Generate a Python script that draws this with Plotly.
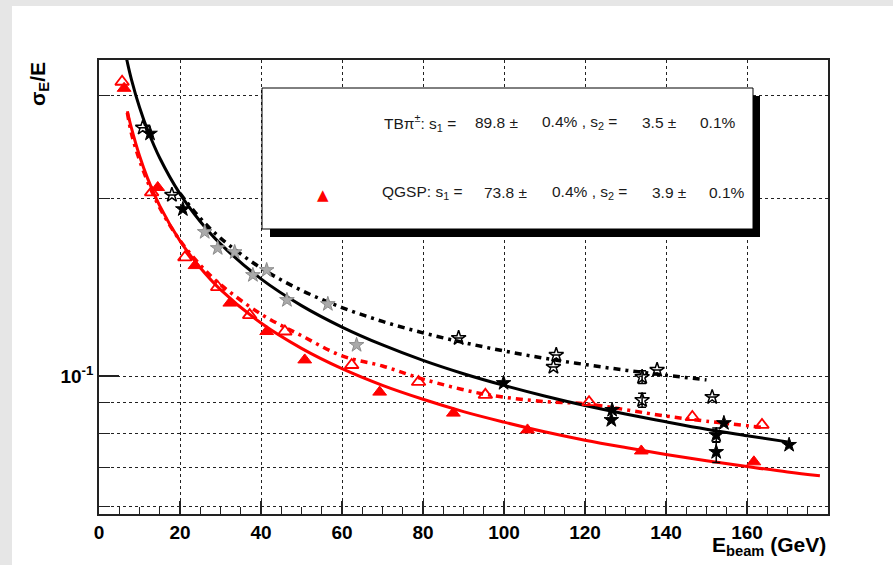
import plotly.graph_objects as go

# ---------------- data ----------------
# QGSP, filled red triangles
red_fill_x = [6.2, 14.5, 23.7, 32.3, 41.4, 50.8, 69.3, 87.5, 105.8, 133.9, 161.7]
red_fill_y = [0.308, 0.209, 0.154, 0.133, 0.119, 0.1065, 0.0939, 0.0865, 0.0810, 0.0746, 0.0715]
# open red triangles
red_open_x = [5.7, 13.0, 21.2, 29.3, 37.2, 45.9, 62.4, 78.9, 95.4, 121.0, 146.5, 163.7]
red_open_y = [0.316, 0.205, 0.159, 0.1416, 0.1269, 0.119, 0.1044, 0.0977, 0.0929, 0.0903, 0.0852, 0.0826]
# TB pi, filled black stars
black_fill_x = [12.6, 20.7, 99.9, 126.5, 126.7, 152.4, 152.4, 154.3, 170.4]
black_fill_y = [0.258, 0.192, 0.0973, 0.0842, 0.0876, 0.0794, 0.0743, 0.0832, 0.0764]
black_fill_err = [0, 0, 0, 0, 0, 0.0022, 0.0030, 0, 0]
# open black stars
black_open_x = [10.8, 18.0, 88.8, 112.2, 112.9, 134.1, 134.1, 137.8, 151.4]
black_open_y = [0.264, 0.203, 0.116, 0.1036, 0.1086, 0.0996, 0.0910, 0.1024, 0.0921]
black_open_err = [0, 0, 0, 0, 0, 0.0025, 0.0025, 0, 0]
# grey stars
gray_x = [26.1, 29.3, 33.5, 38.0, 41.4, 46.4, 56.5, 63.6]
gray_y = [0.1756, 0.1649, 0.1623, 0.1484, 0.1513, 0.1346, 0.1325, 0.1129]

# fit curves
tb_fit_x = [6, 7, 8, 10, 12, 15, 20, 25, 30, 40, 50, 60, 70, 80, 90, 100, 110, 120, 130, 140, 150, 160, 170]
tb_fit_y = [0.368, 0.341, 0.319, 0.286, 0.2616, 0.2345, 0.2038, 0.183, 0.1676, 0.1462, 0.1317, 0.1211, 0.1129,
            0.1063, 0.1009, 0.0964, 0.0925, 0.0891, 0.0862, 0.0836, 0.0812, 0.0792, 0.0773]
tb2_fit_x = [20, 25, 30, 40, 50, 60, 70, 80, 90, 100, 110, 120, 130, 140, 150]
tb2_fit_y = [0.2043, 0.1853, 0.1715, 0.1525, 0.1398, 0.1307, 0.1238, 0.1184, 0.114, 0.1103, 0.1072, 0.1046,
             0.1023, 0.1003, 0.0985]
qgsp_fit_x = [7, 8, 10, 12, 15, 20, 25, 30, 40, 50, 60, 70, 80, 90, 100, 110, 120, 130, 140, 150, 160, 170, 178]
qgsp_fit_y = [0.2816, 0.2638, 0.2366, 0.2166, 0.1945, 0.1696, 0.1527, 0.1402, 0.123, 0.1114, 0.1029, 0.0964,
              0.0913, 0.087, 0.0835, 0.0804, 0.0778, 0.0756, 0.0736, 0.0718, 0.0702, 0.0687, 0.0677]
qgsp2_fit_x = [7, 8, 10, 13, 16, 20, 25, 30, 40, 50, 60, 70, 80, 95, 110, 120, 140, 150, 164]
qgsp2_fit_y = [0.280, 0.2584, 0.2326, 0.206, 0.1876, 0.1699, 0.1543, 0.143, 0.1274, 0.1171, 0.1082, 0.104,
               0.0988, 0.0932, 0.0905, 0.0897, 0.0855, 0.0838, 0.0818]

x_ticks = [0, 20, 40, 60, 80, 100, 120, 140, 160]
y_major = [0.1]
y_major_text = ["10<sup>-1</sup>"]
y_minor = [0.06, 0.07, 0.08, 0.09, 0.2, 0.3]

legend_rows = [
    ["TBπ<sup>±</sup>: s<sub>1</sub> =", "89.8 ±", "0.4% , s<sub>2</sub> =", "3.5 ±", "0.1%"],
    ["QGSP: s<sub>1</sub> =", "73.8 ±", "0.4% , s<sub>2</sub> =", "3.9 ±", "0.1%"],
]

# ---------------- figure ----------------
RED = "#ff0000"
FONT = "Liberation Sans, Arial, Helvetica, sans-serif"

fig = go.Figure()

fig.add_trace(go.Scatter(x=tb2_fit_x, y=tb2_fit_y, mode="lines", line_shape="spline",
                         line=dict(color="black", width=3.5, dash="7px,5px,3px,5px")))
fig.add_trace(go.Scatter(x=qgsp2_fit_x, y=qgsp2_fit_y, mode="lines", line_shape="spline",
                         line=dict(color=RED, width=3.5, dash="7px,5px,3px,5px")))
fig.add_trace(go.Scatter(x=tb_fit_x, y=tb_fit_y, mode="lines", line_shape="spline",
                         line=dict(color="black", width=3)))
fig.add_trace(go.Scatter(x=qgsp_fit_x, y=qgsp_fit_y, mode="lines", line_shape="spline",
                         line=dict(color=RED, width=3)))

fig.add_trace(go.Scatter(x=gray_x, y=gray_y, mode="markers",
                         marker=dict(symbol="star", size=11, color="#aaaaaa",
                                     line=dict(color="#8c8c8c", width=1))))
fig.add_trace(go.Scatter(x=black_open_x, y=black_open_y, mode="markers",
                         error_y=dict(type="data", array=black_open_err, color="black", thickness=1.5, width=4),
                         marker=dict(symbol="star-open", size=11, color="black",
                                     line=dict(color="black", width=1.5))))
fig.add_trace(go.Scatter(x=black_fill_x, y=black_fill_y, mode="markers",
                         error_y=dict(type="data", array=black_fill_err, color="black", thickness=1.5, width=4),
                         marker=dict(symbol="star", size=11, color="black",
                                     line=dict(color="black", width=1))))
fig.add_trace(go.Scatter(x=red_open_x, y=red_open_y, mode="markers",
                         marker=dict(symbol="triangle-up-open", size=12, color=RED,
                                     line=dict(color=RED, width=1.8))))
fig.add_trace(go.Scatter(x=red_fill_x, y=red_fill_y, mode="markers",
                         marker=dict(symbol="triangle-up", size=12, color=RED,
                                     line=dict(color=RED, width=1))))

# plot geometry in pixels
L, R, T, B = 99, 828, 60, 514
W, H = 893, 565


def px(xp):
    return (xp - L) / (R - L)


def py(yp):
    return (B - yp) / (B - T)


shapes = [
    # white page over grey surround
    dict(type="rect", xref="paper", yref="paper", x0=px(12), x1=px(900), y0=py(575), y1=py(6),
         fillcolor="white", line=dict(width=0), layer="below"),
    # legend shadow
    dict(type="rect", xref="paper", yref="paper", x0=px(270), x1=px(760), y0=py(237), y1=py(96),
         fillcolor="black", line=dict(width=0), layer="above"),
    # legend box
    dict(type="rect", xref="paper", yref="paper", x0=px(262), x1=px(753), y0=py(229), y1=py(88),
         fillcolor="white", line=dict(color="black", width=1), layer="above"),
]

annotations = []
col_x = [[382, 473, 540, 640, 698], [380, 482, 550, 650, 707]]
row_y = [123, 192]
for r, row in enumerate(legend_rows):
    for c, txt in enumerate(row):
        annotations.append(dict(xref="paper", yref="paper", x=px(col_x[r][c]), y=py(row_y[r]),
                                xanchor="left", yanchor="middle", showarrow=False, text=txt,
                                font=dict(family=FONT, size=15.5, color="#1a1a1a")))
annotations.append(dict(xref="paper", yref="paper", x=px(323), y=py(195), xanchor="center",
                        yanchor="middle", showarrow=False, text="▲",
                        font=dict(family="DejaVu Sans", size=15, color=RED)))
# axis titles
annotations.append(dict(xref="paper", yref="paper", x=px(39), y=py(84), xanchor="center",
                        yanchor="middle", showarrow=False, textangle=-90,
                        text="σ<sub>E</sub>/E",
                        font=dict(family=FONT, size=21, color="black", weight="bold")))
annotations.append(dict(xref="paper", yref="paper", x=px(828), y=py(546), xanchor="right",
                        yanchor="middle", showarrow=False,
                        text="E<sub>beam</sub> (GeV)",
                        font=dict(family=FONT, size=21, color="black", weight="bold")))

fig.update_layout(
    width=W, height=H,
    margin=dict(l=L, r=W - R, t=T, b=H - B, pad=0, autoexpand=False),
    paper_bgcolor="#e6e6e6",
    plot_bgcolor="white",
    showlegend=False,
    shapes=shapes,
    annotations=annotations,
    font=dict(family=FONT, color="black"),
)

fig.update_xaxes(
    range=[0, 180], tickvals=x_ticks, ticktext=[str(v) for v in x_ticks],
    ticks="inside", ticklen=13, tickwidth=1.5, tickcolor="#222",
    showline=True, linecolor="#222", linewidth=1.5, mirror=True,
    showgrid=True, gridcolor="#222", gridwidth=1, griddash="dot",
    zeroline=False, automargin=False,
    tickfont=dict(family=FONT, size=19, color="black", weight="bold"),
    minor=dict(dtick=5, tick0=0, ticks="inside", ticklen=7, tickwidth=1.2, tickcolor="#222", showgrid=False),
)
fig.update_yaxes(
    type="log", range=[-1.2343, -0.4634],
    tickvals=y_major, ticktext=y_major_text,
    ticks="inside", ticklen=20, tickwidth=1.5, tickcolor="#222",
    showline=True, linecolor="#222", linewidth=1.5, mirror=True,
    showgrid=True, gridcolor="#222", gridwidth=1, griddash="dot",
    zeroline=False, automargin=False,
    tickfont=dict(family=FONT, size=19, color="black", weight="bold"),
    minor=dict(tickvals=y_minor, ticks="inside", ticklen=11, tickwidth=1.2, tickcolor="#222",
               showgrid=True, gridcolor="#222", gridwidth=1, griddash="dot"),
)

fig.write_html(
    "out.html",
    config={"displayModeBar": False},
    post_script="document.body.style.margin='0';document.body.style.padding='0';"
                "document.body.style.background='#e6e6e6';document.body.style.overflow='hidden';",
)
